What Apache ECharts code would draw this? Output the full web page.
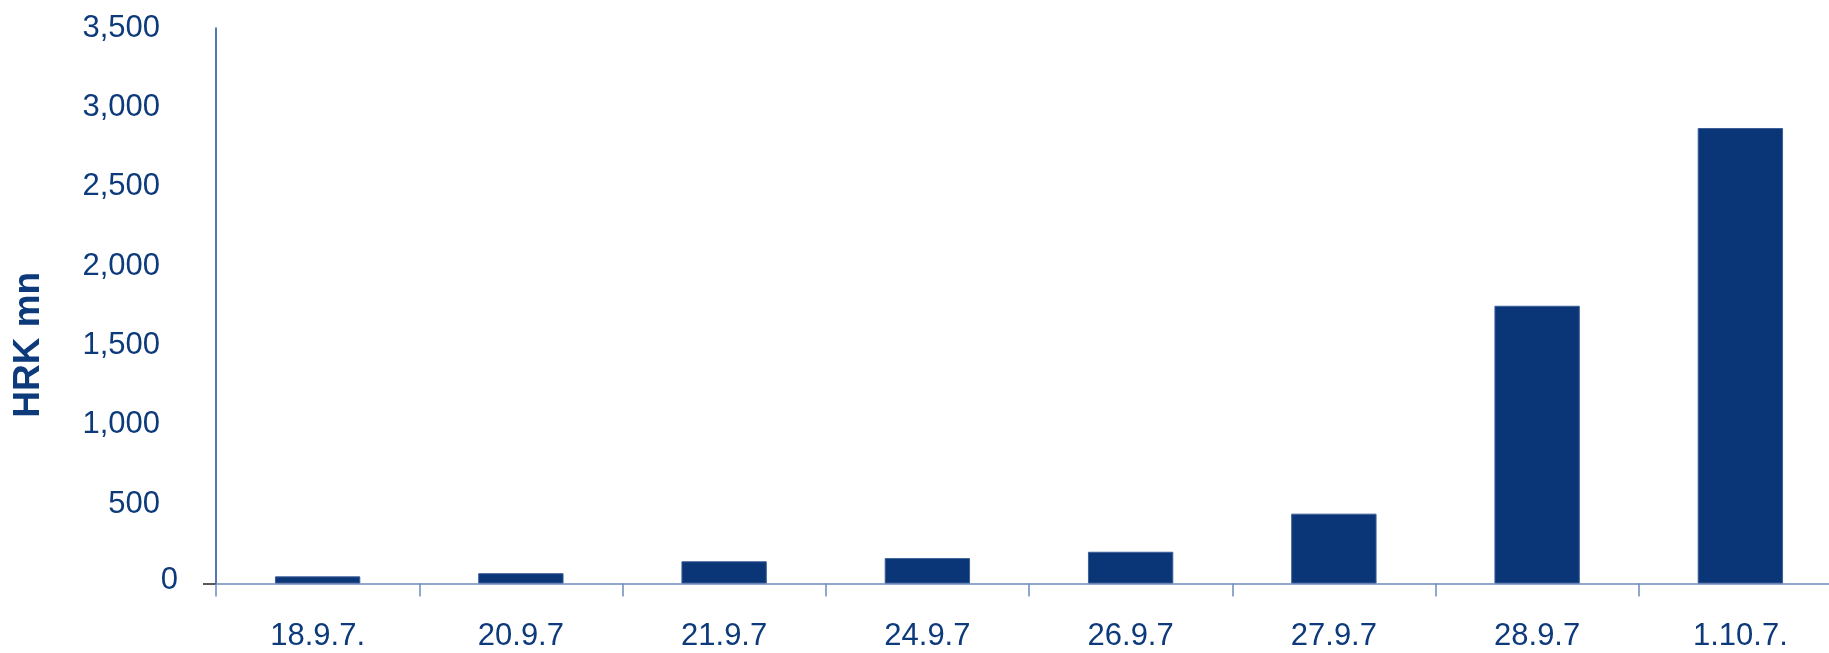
<!DOCTYPE html>
<html>
<head>
<meta charset="utf-8">
<title>HRK mn</title>
<script src="https://cdn.jsdelivr.net/npm/echarts@6/dist/echarts.min.js"></script>
<style>
  html, body { margin: 0; padding: 0; background: #ffffff; }
  #chart { width: 1829px; height: 653px; }
</style>
</head>
<body>
<div id="chart"></div>
<script>
// Dates on the category axis
const categories = ['18.9.7.', '20.9.7', '21.9.7', '24.9.7', '26.9.7', '27.9.7', '28.9.7', '1.10.7.'];
// Amounts in HRK million
const amounts = [45, 65, 140, 160, 200, 440, 1750, 2870];
// Value axis range and step
const yMin = 0;
const yMax = 3500;
const yStep = 500;

const navy = '#0a3677';
const textNavy = '#0d3a7a';
const fontFamily = '"Liberation Sans", Arial, sans-serif';

const chart = echarts.init(document.getElementById('chart'), null, { renderer: 'canvas' });

chart.setOption({
  backgroundColor: '#ffffff',
  animation: false,
  grid: {
    left: 216,
    right: -13,
    top: 28,
    bottom: 69.5,
    containLabel: false,
    outerBoundsMode: 'none'
  },
  xAxis: {
    type: 'category',
    data: categories,
    boundaryGap: true,
    axisLine: { show: true, lineStyle: { color: '#6f8bbd', width: 1.5 } },
    axisTick: { show: true, alignWithLabel: false, length: 13, lineStyle: { color: '#6f8bbd', width: 1.5 } },
    axisLabel: {
      color: textNavy,
      fontFamily: fontFamily,
      fontSize: 31,
      margin: 37,
      interval: 0
    },
    splitLine: { show: false }
  },
  yAxis: {
    type: 'value',
    min: yMin,
    max: yMax,
    interval: yStep,
    name: 'HRK mn',
    nameLocation: 'middle',
    nameGap: 169,
    nameRotate: 90,
    nameMoveOverlap: false,
    nameTextStyle: {
      color: textNavy,
      fontFamily: fontFamily,
      fontSize: 37,
      fontWeight: 'bold',
      padding: [0, 78, 0, 0]
    },
    axisLine: { show: true, lineStyle: { color: '#1a4a96', width: 1.5 } },
    axisTick: {
      show: true,
      customValues: [0],
      length: 13,
      lineStyle: { color: '#222222', width: 1.5 }
    },
    axisLabel: {
      color: textNavy,
      fontFamily: fontFamily,
      fontSize: 31,
      margin: 38,
      formatter: function (v) {
        if (v === 0) { return '{z|0}'; }
        return '{n|' + v.toLocaleString('en-US') + '}';
      },
      rich: {
        z: { color: textNavy, fontFamily: fontFamily, fontSize: 31, padding: [0, 0, 6, 0] },
        n: { color: textNavy, fontFamily: fontFamily, fontSize: 31, padding: [0, 18, 0, 0] }
      }
    },
    splitLine: { show: false }
  },
  series: [{
    type: 'bar',
    data: amounts,
    barWidth: '42%',
    itemStyle: {
      color: navy,
      borderColor: '#3c5f98',
      borderWidth: 1
    },
    emphasis: { disabled: true }
  }]
});
</script>
</body>
</html>
